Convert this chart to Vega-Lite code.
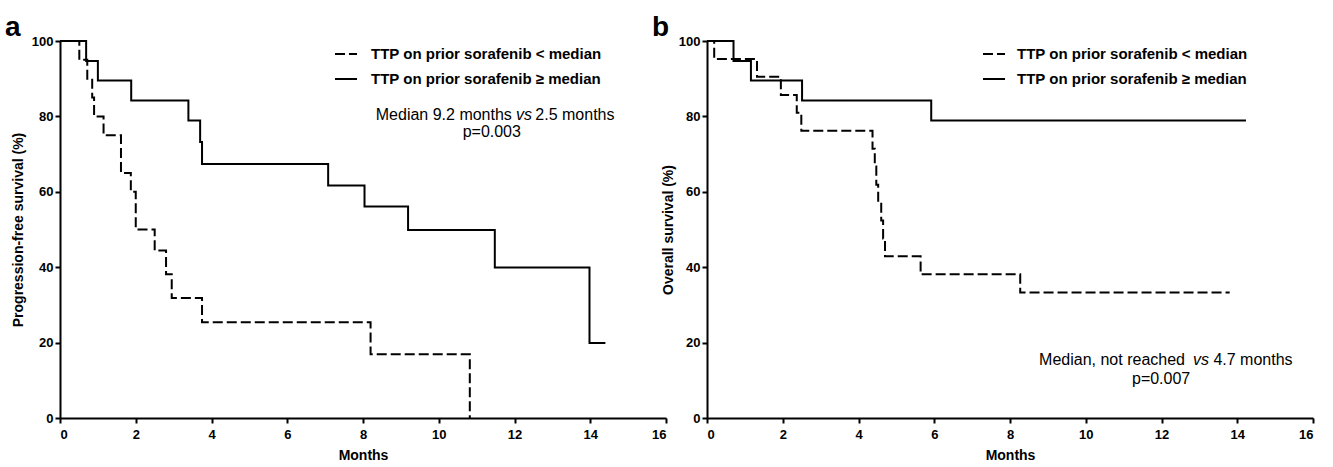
{
  "$schema": "https://vega.github.io/schema/vega-lite/v6.json",
  "padding": {"left": 5, "top": 14, "right": 5, "bottom": 0},
  "bounds": "flush",
  "spacing": 41,
  "background": "white",
  "config": {
    "view": {"stroke": null},
    "font": "Liberation Sans",
    "axis": {
      "grid": false, "domainColor": "black", "domainWidth": 2, "tickColor": "black", "tickWidth": 2, "tickSize": 5,
      "labelFont": "Liberation Sans", "labelFontSize": 13, "labelFontWeight": "bold", "labelColor": "black",
      "titleFont": "Liberation Sans", "titleFontSize": 14, "titleFontWeight": "bold", "titleColor": "black"
    },
    "axisX": {"labelPadding": 5, "titlePadding": 7},
    "axisY": {"labelPadding": 2, "titlePadding": 6},
    "title": {"font": "Liberation Sans", "fontSize": 28, "fontWeight": "bold", "color": "black", "anchor": "start", "frame": "group", "dx": -55, "offset": -7, "baseline": "alphabetic"},
    "text": {"font": "Liberation Sans", "fontSize": 16, "color": "black"}
  },
  "datasets": {
    "curves": [
      {"panel": "a", "group": "TTP on prior sorafenib < median", "month": 0, "surv": 100},
      {"panel": "a", "group": "TTP on prior sorafenib < median", "month": 0.51, "surv": 95},
      {"panel": "a", "group": "TTP on prior sorafenib < median", "month": 0.72, "surv": 90},
      {"panel": "a", "group": "TTP on prior sorafenib < median", "month": 0.85, "surv": 85},
      {"panel": "a", "group": "TTP on prior sorafenib < median", "month": 0.9, "surv": 80},
      {"panel": "a", "group": "TTP on prior sorafenib < median", "month": 1.15, "surv": 75},
      {"panel": "a", "group": "TTP on prior sorafenib < median", "month": 1.61, "surv": 65},
      {"panel": "a", "group": "TTP on prior sorafenib < median", "month": 1.87, "surv": 60},
      {"panel": "a", "group": "TTP on prior sorafenib < median", "month": 2.0, "surv": 50},
      {"panel": "a", "group": "TTP on prior sorafenib < median", "month": 2.5, "surv": 44.4},
      {"panel": "a", "group": "TTP on prior sorafenib < median", "month": 2.8, "surv": 38.1},
      {"panel": "a", "group": "TTP on prior sorafenib < median", "month": 2.95, "surv": 31.8},
      {"panel": "a", "group": "TTP on prior sorafenib < median", "month": 3.75, "surv": 25.4},
      {"panel": "a", "group": "TTP on prior sorafenib < median", "month": 8.2, "surv": 16.9},
      {"panel": "a", "group": "TTP on prior sorafenib < median", "month": 10.82, "surv": 0},
      {"panel": "a", "group": "TTP on prior sorafenib ≥ median", "month": 0, "surv": 100},
      {"panel": "a", "group": "TTP on prior sorafenib ≥ median", "month": 0.69, "surv": 94.7},
      {"panel": "a", "group": "TTP on prior sorafenib ≥ median", "month": 1.0, "surv": 89.5},
      {"panel": "a", "group": "TTP on prior sorafenib ≥ median", "month": 1.88, "surv": 84.2},
      {"panel": "a", "group": "TTP on prior sorafenib ≥ median", "month": 3.39, "surv": 78.9},
      {"panel": "a", "group": "TTP on prior sorafenib ≥ median", "month": 3.7, "surv": 73.2},
      {"panel": "a", "group": "TTP on prior sorafenib ≥ median", "month": 3.75, "surv": 67.4},
      {"panel": "a", "group": "TTP on prior sorafenib ≥ median", "month": 7.08, "surv": 61.7},
      {"panel": "a", "group": "TTP on prior sorafenib ≥ median", "month": 8.04, "surv": 56.1},
      {"panel": "a", "group": "TTP on prior sorafenib ≥ median", "month": 9.19, "surv": 49.9},
      {"panel": "a", "group": "TTP on prior sorafenib ≥ median", "month": 11.48, "surv": 39.9},
      {"panel": "a", "group": "TTP on prior sorafenib ≥ median", "month": 13.98, "surv": 19.9},
      {"panel": "a", "group": "TTP on prior sorafenib ≥ median", "month": 14.4, "surv": 19.9},
      {"panel": "b", "group": "TTP on prior sorafenib < median", "month": 0, "surv": 100},
      {"panel": "b", "group": "TTP on prior sorafenib < median", "month": 0.19, "surv": 95.2},
      {"panel": "b", "group": "TTP on prior sorafenib < median", "month": 1.32, "surv": 90.5},
      {"panel": "b", "group": "TTP on prior sorafenib < median", "month": 1.95, "surv": 85.7},
      {"panel": "b", "group": "TTP on prior sorafenib < median", "month": 2.37, "surv": 81.0},
      {"panel": "b", "group": "TTP on prior sorafenib < median", "month": 2.49, "surv": 76.2},
      {"panel": "b", "group": "TTP on prior sorafenib < median", "month": 4.37, "surv": 71.4},
      {"panel": "b", "group": "TTP on prior sorafenib < median", "month": 4.43, "surv": 66.7},
      {"panel": "b", "group": "TTP on prior sorafenib < median", "month": 4.47, "surv": 61.9},
      {"panel": "b", "group": "TTP on prior sorafenib < median", "month": 4.52, "surv": 57.1},
      {"panel": "b", "group": "TTP on prior sorafenib < median", "month": 4.6, "surv": 52.4},
      {"panel": "b", "group": "TTP on prior sorafenib < median", "month": 4.65, "surv": 47.6},
      {"panel": "b", "group": "TTP on prior sorafenib < median", "month": 4.7, "surv": 42.9},
      {"panel": "b", "group": "TTP on prior sorafenib < median", "month": 5.64, "surv": 38.1},
      {"panel": "b", "group": "TTP on prior sorafenib < median", "month": 8.27, "surv": 33.3},
      {"panel": "b", "group": "TTP on prior sorafenib < median", "month": 13.8, "surv": 33.3},
      {"panel": "b", "group": "TTP on prior sorafenib ≥ median", "month": 0, "surv": 100},
      {"panel": "b", "group": "TTP on prior sorafenib ≥ median", "month": 0.7, "surv": 94.7},
      {"panel": "b", "group": "TTP on prior sorafenib ≥ median", "month": 1.16, "surv": 89.5},
      {"panel": "b", "group": "TTP on prior sorafenib ≥ median", "month": 2.51, "surv": 84.2},
      {"panel": "b", "group": "TTP on prior sorafenib ≥ median", "month": 5.92, "surv": 78.9},
      {"panel": "b", "group": "TTP on prior sorafenib ≥ median", "month": 14.23, "surv": 78.9}
    ],
    "notes": [
      {"panel": "a", "part": "pre", "month": 11.93, "surv": 80.3, "text": "Median 9.2 months"},
      {"panel": "a", "part": "vs", "month": 12.25, "surv": 80.3, "text": "vs"},
      {"panel": "a", "part": "post", "month": 12.55, "surv": 80.3, "text": "2.5 months"},
      {"panel": "a", "part": "p", "month": 11.4, "surv": 75.9, "text": "p=0.003"},
      {"panel": "b", "part": "pre", "month": 12.62, "surv": 15.4, "text": "Median, not reached"},
      {"panel": "b", "part": "vs", "month": 13.04, "surv": 15.4, "text": "vs"},
      {"panel": "b", "part": "post", "month": 13.37, "surv": 15.4, "text": "4.7 months"},
      {"panel": "b", "part": "p", "month": 11.99, "surv": 10.3, "text": "p=0.007"}
    ]
  },
  "resolve": {"scale": {"strokeDash": "independent"}, "legend": {"strokeDash": "independent"}},
  "hconcat": [
    {
      "width": 606, "height": 377,
      "title": {"text": "a"},
      "layer": [
        {
          "data": {"name": "curves"},
          "transform": [{"filter": "datum.panel === 'a'"}],
          "mark": {"type": "line", "interpolate": "step-after", "color": "black", "strokeWidth": 2},
          "encoding": {
            "x": {"field": "month", "type": "quantitative", "scale": {"domain": [0, 16], "nice": false}, "axis": {"values": [0, 2, 4, 6, 8, 10, 12, 14, 16], "title": "Months"}},
            "y": {"field": "surv", "type": "quantitative", "scale": {"domain": [0, 100], "nice": false}, "axis": {"values": [0, 20, 40, 60, 80, 100], "title": "Progression-free survival (%)"}},
            "strokeDash": {"field": "group", "type": "nominal",
              "scale": {"domain": ["TTP on prior sorafenib < median", "TTP on prior sorafenib ≥ median"], "range": [[10, 4], [1, 0]]},
              "legend": {"title": null, "orient": "none", "legendX": 274, "legendY": 1, "symbolType": "stroke", "symbolSize": 484, "symbolStrokeWidth": 2, "symbolStrokeColor": "black", "labelFont": "Liberation Sans", "labelFontSize": 15, "labelFontWeight": "bold", "labelColor": "black", "labelOffset": 13, "rowPadding": 5, "labelLimit": 400}}
          }
        },
        {
          "data": {"name": "notes"},
          "transform": [{"filter": "datum.panel === 'a' && datum.part === 'pre'"}],
          "mark": {"type": "text", "align": "right"},
          "encoding": {"x": {"field": "month", "type": "quantitative"}, "y": {"field": "surv", "type": "quantitative"}, "text": {"field": "text"}}
        },
        {
          "data": {"name": "notes"},
          "transform": [{"filter": "datum.panel === 'a' && datum.part === 'vs'"}],
          "mark": {"type": "text", "align": "center", "fontStyle": "italic"},
          "encoding": {"x": {"field": "month", "type": "quantitative"}, "y": {"field": "surv", "type": "quantitative"}, "text": {"field": "text"}}
        },
        {
          "data": {"name": "notes"},
          "transform": [{"filter": "datum.panel === 'a' && datum.part === 'post'"}],
          "mark": {"type": "text", "align": "left"},
          "encoding": {"x": {"field": "month", "type": "quantitative"}, "y": {"field": "surv", "type": "quantitative"}, "text": {"field": "text"}}
        },
        {
          "data": {"name": "notes"},
          "transform": [{"filter": "datum.panel === 'a' && datum.part === 'p'"}],
          "mark": {"type": "text", "align": "center"},
          "encoding": {"x": {"field": "month", "type": "quantitative"}, "y": {"field": "surv", "type": "quantitative"}, "text": {"field": "text"}}
        }
      ]
    },
    {
      "width": 606, "height": 377,
      "title": {"text": "b"},
      "layer": [
        {
          "data": {"name": "curves"},
          "transform": [{"filter": "datum.panel === 'b'"}],
          "mark": {"type": "line", "interpolate": "step-after", "color": "black", "strokeWidth": 2},
          "encoding": {
            "x": {"field": "month", "type": "quantitative", "scale": {"domain": [0, 16], "nice": false}, "axis": {"values": [0, 2, 4, 6, 8, 10, 12, 14, 16], "title": "Months"}},
            "y": {"field": "surv", "type": "quantitative", "scale": {"domain": [0, 100], "nice": false}, "axis": {"values": [0, 20, 40, 60, 80, 100], "title": "Overall survival (%)", "titlePadding": 3}},
            "strokeDash": {"field": "group", "type": "nominal",
              "scale": {"domain": ["TTP on prior sorafenib < median", "TTP on prior sorafenib ≥ median"], "range": [[10, 4], [1, 0]]},
              "legend": {"title": null, "orient": "none", "legendX": 275, "legendY": 1, "symbolType": "stroke", "symbolSize": 484, "symbolStrokeWidth": 2, "symbolStrokeColor": "black", "labelFont": "Liberation Sans", "labelFontSize": 15, "labelFontWeight": "bold", "labelColor": "black", "labelOffset": 11, "rowPadding": 5, "labelLimit": 400}}
          }
        },
        {
          "data": {"name": "notes"},
          "transform": [{"filter": "datum.panel === 'b' && datum.part === 'pre'"}],
          "mark": {"type": "text", "align": "right"},
          "encoding": {"x": {"field": "month", "type": "quantitative"}, "y": {"field": "surv", "type": "quantitative"}, "text": {"field": "text"}}
        },
        {
          "data": {"name": "notes"},
          "transform": [{"filter": "datum.panel === 'b' && datum.part === 'vs'"}],
          "mark": {"type": "text", "align": "center", "fontStyle": "italic"},
          "encoding": {"x": {"field": "month", "type": "quantitative"}, "y": {"field": "surv", "type": "quantitative"}, "text": {"field": "text"}}
        },
        {
          "data": {"name": "notes"},
          "transform": [{"filter": "datum.panel === 'b' && datum.part === 'post'"}],
          "mark": {"type": "text", "align": "left"},
          "encoding": {"x": {"field": "month", "type": "quantitative"}, "y": {"field": "surv", "type": "quantitative"}, "text": {"field": "text"}}
        },
        {
          "data": {"name": "notes"},
          "transform": [{"filter": "datum.panel === 'b' && datum.part === 'p'"}],
          "mark": {"type": "text", "align": "center"},
          "encoding": {"x": {"field": "month", "type": "quantitative"}, "y": {"field": "surv", "type": "quantitative"}, "text": {"field": "text"}}
        }
      ]
    }
  ]
}
